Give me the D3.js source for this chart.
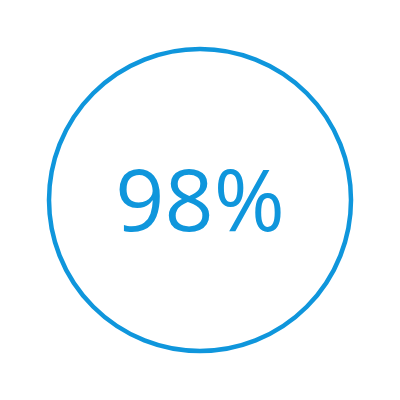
<!DOCTYPE html>
<html>
<head>
<meta charset="utf-8">
<script src="https://cdn.jsdelivr.net/npm/d3@7"></script>
<style>
  html, body { margin: 0; padding: 0; background: #fff; }
</style>
</head>
<body>
<div id="gauge"></div>
<script>
const value = [98]
const maxValue = [100]

const width = 400
const height = 400
const color = '#0f96dc'

const svg = d3.select('#gauge')
  .append('svg')
  .attr('width', width)
  .attr('height', height)

const radius = 151
const pct = d3.scaleLinear().domain([0, maxValue[0]]).range([0, 100])

const g = svg.append('g')
  .attr('transform', `translate(${width / 2},${height / 2})`)

g.append('circle')
  .attr('r', radius)
  .attr('fill', 'none')
  .attr('stroke', color)
  .attr('stroke-width', 4.5)

g.append('text')
  .attr('text-anchor', 'middle')
  .attr('y', 31)
  .attr('font-family', '"Open Sans", sans-serif')
  .attr('font-size', 86)
  .attr('fill', color)
  .text(Math.round(pct(value[0])) + '%')
</script>
</body>
</html>
